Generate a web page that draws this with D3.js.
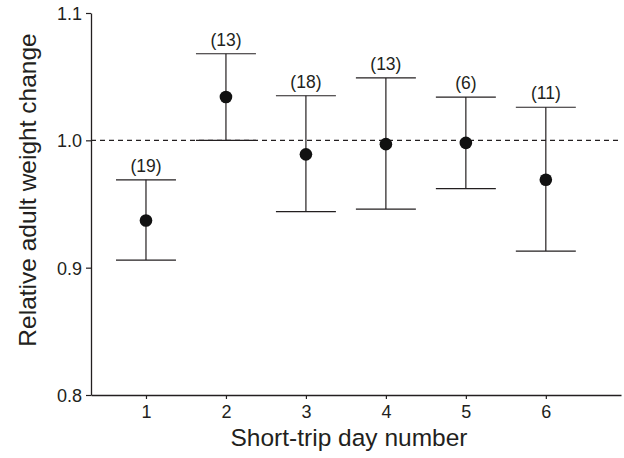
<!DOCTYPE html>
<html>
<head>
<meta charset="utf-8">
<script src="https://cdn.jsdelivr.net/npm/d3@7"></script>
<style>
  body { margin: 0; background: #fff; }
  text { font-family: "Liberation Sans", Arial, sans-serif; fill: #231f20; }
</style>
</head>
<body>
<script>
// Data
var days = [1, 2, 3, 4, 5, 6];
var means = [0.937, 1.034, 0.989, 0.997, 0.998, 0.969];
var upper = [0.969, 1.068, 1.035, 1.049, 1.034, 1.026];
var lower = [0.906, 1.000, 0.944, 0.946, 0.962, 0.913];
var nLabels = ["(19)", "(13)", "(18)", "(13)", "(6)", "(11)"];
var yTicks = [0.8, 0.9, 1.0, 1.1];

function chart() {
  var w = 624;
  var h = 458;
  var left = 91, top = 13, right = 621, bottom = 395;
  var ink = "#231f20";

  var svg = d3.select("body")
              .append("svg")
              .attr("width", w)
              .attr("height", h);

  var x = d3.scaleLinear().domain([0.3125, 6.94]).range([left, right]);
  var y = d3.scaleLinear().domain([0.8, 1.1]).range([bottom, top]);

  var data = days.map(function (d, i) {
    return { day: d, mean: means[i], hi: upper[i], lo: lower[i], n: nLabels[i] };
  });

  // reference line at 1.0
  svg.append("line")
    .attr("x1", left).attr("x2", right)
    .attr("y1", y(1)).attr("y2", y(1))
    .attr("stroke", ink)
    .attr("stroke-width", 1.1)
    .attr("stroke-dasharray", "5,4");

  // y axis
  var yAxis = svg.append("g")
    .attr("transform", "translate(" + left + ",0)")
    .call(d3.axisLeft(y).tickValues(yTicks).tickFormat(d3.format(".1f")).tickSize(5).tickSizeOuter(0));

  // x axis
  var xAxis = svg.append("g")
    .attr("transform", "translate(0," + bottom + ")")
    .call(d3.axisBottom(x).tickValues(days).tickFormat(d3.format("d")).tickSize(4).tickSizeOuter(0));

  [yAxis, xAxis].forEach(function (g) {
    g.attr("font-size", 18).attr("font-family", "Liberation Sans, Arial, sans-serif");
    g.select(".domain").attr("stroke", ink).attr("stroke-width", 1.3);
    g.selectAll(".tick line").attr("stroke", ink).attr("stroke-width", 1.2);
    g.selectAll(".tick text").attr("fill", ink);
  });
  yAxis.selectAll(".tick text").attr("x", -9).attr("dy", "0.36em");
  xAxis.selectAll(".tick text").attr("y", 10);

  var cap = 0.375;
  var bars = svg.selectAll("g.bar")
    .data(data)
    .enter()
    .append("g")
    .attr("class", "bar");

  bars.append("line")
    .attr("x1", function (d) { return x(d.day); })
    .attr("x2", function (d) { return x(d.day); })
    .attr("y1", function (d) { return y(d.hi); })
    .attr("y2", function (d) { return y(d.lo); })
    .attr("stroke", ink).attr("stroke-width", 1.2);

  bars.append("line")
    .attr("x1", function (d) { return x(d.day - cap); })
    .attr("x2", function (d) { return x(d.day + cap); })
    .attr("y1", function (d) { return y(d.hi); })
    .attr("y2", function (d) { return y(d.hi); })
    .attr("stroke", ink).attr("stroke-width", 1.2);

  bars.append("line")
    .attr("x1", function (d) { return x(d.day - cap); })
    .attr("x2", function (d) { return x(d.day + cap); })
    .attr("y1", function (d) { return y(d.lo); })
    .attr("y2", function (d) { return y(d.lo); })
    .attr("stroke", ink).attr("stroke-width", 1.2);

  bars.append("circle")
    .attr("cx", function (d) { return x(d.day); })
    .attr("cy", function (d) { return y(d.mean); })
    .attr("r", 6.3)
    .attr("fill", "#111");

  bars.append("text")
    .text(function (d) { return d.n; })
    .attr("text-anchor", "middle")
    .attr("x", function (d) { return x(d.day); })
    .attr("y", function (d) { return y(d.hi) - 8; })
    .attr("font-size", "17.5px");

  // axis titles
  svg.append("text")
    .text("Short-trip day number")
    .attr("text-anchor", "middle")
    .attr("x", 349)
    .attr("y", 446)
    .attr("font-size", "24.5px");

  svg.append("text")
    .text("Relative adult weight change")
    .attr("text-anchor", "middle")
    .attr("transform", "translate(36,190) rotate(-90)")
    .attr("font-size", "24.5px");
}

chart();
</script>
</body>
</html>
